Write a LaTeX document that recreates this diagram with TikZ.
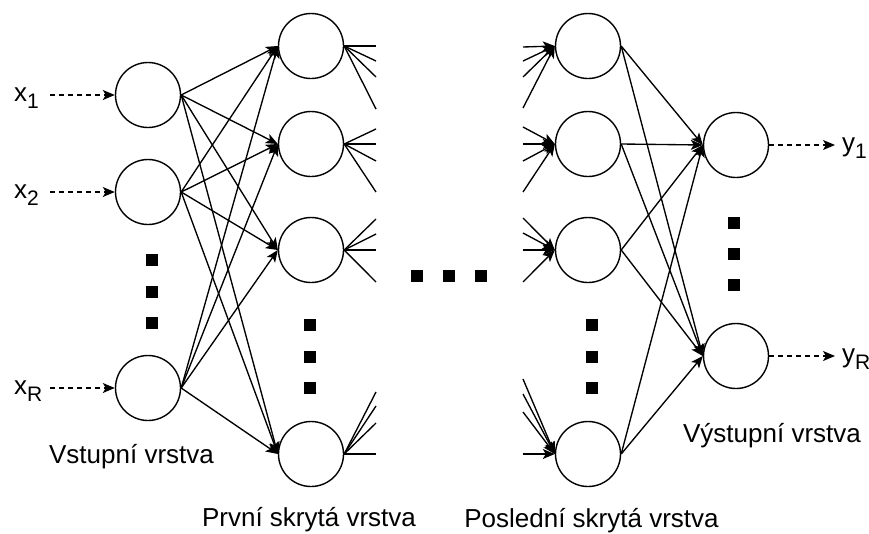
\documentclass[tikz,border=0pt]{standalone}
\usepackage{fontspec}
\setmainfont{Liberation Sans}
\usetikzlibrary{arrows.meta}
% lowered, smaller index after a variable name
\newcommand{\lowidx}[1]{\raisebox{-7pt}{\fontsize{21}{21}\selectfont #1}}

\begin{document}
\begin{tikzpicture}[x=1pt,y=-1pt,
  neuron/.style={circle,draw,line width=1.4pt,minimum size=65pt,inner sep=0pt},
  dotbox/.style={rectangle,fill=black,minimum size=11.5pt,inner sep=0pt},
  tip/.style={-{Stealth[length=12pt,width=10pt,inset=3pt]}},
  link/.style={line width=1.35pt,tip},
  stub/.style={line width=1.35pt},
  feed/.style={line width=1.35pt,dash pattern=on 5pt off 4pt,tip},
  lbl/.style={font=\fontsize{26}{30}\selectfont,inner sep=0pt}
]
\useasboundingbox (0,0) rectangle (869,533);

% input layer
\node[neuron] (i1) at (148,95) {};
\node[neuron] (i2) at (148,192) {};
\node[neuron] (iR) at (148,388) {};
\node[dotbox] (idot1) at (152,260) {};
\node[dotbox] (idot2) at (152,292) {};
\node[dotbox] (idot3) at (152,323) {};

% first hidden layer
\node[neuron] (h1) at (311,46) {};
\node[neuron] (h2) at (311,144) {};
\node[neuron] (h3) at (311,250) {};
\node[neuron] (h4) at (311,454) {};
\node[dotbox] (hdot1) at (310,325) {};
\node[dotbox] (hdot2) at (310,357) {};
\node[dotbox] (hdot3) at (310,388) {};

% last hidden layer
\node[neuron] (l1) at (588,46) {};
\node[neuron] (l2) at (588,144) {};
\node[neuron] (l3) at (588,250) {};
\node[neuron] (l4) at (588,454) {};
\node[dotbox] (ldot1) at (592,325) {};
\node[dotbox] (ldot2) at (592,357) {};
\node[dotbox] (ldot3) at (592,388) {};

% output layer
\node[neuron] (o1) at (736,145) {};
\node[neuron] (oR) at (736,356) {};
\node[dotbox] (odot1) at (734,223) {};
\node[dotbox] (odot2) at (734,254) {};
\node[dotbox] (odot3) at (734,285) {};

% omitted layers in between
\node[dotbox] (mdot1) at (417,276) {};
\node[dotbox] (mdot2) at (449,276) {};
\node[dotbox] (mdot3) at (481,276) {};

% inputs
\node[lbl,anchor=base west] (x1) at (14,101) {x\lowidx{1}};
\node[lbl,anchor=base west] (x2) at (14,198) {x\lowidx{2}};
\node[lbl,anchor=base west] (xR) at (14,394) {x\lowidx{R}};
\coordinate (x1e) at (50,95);
\coordinate (x2e) at (50,192);
\coordinate (xRe) at (50,388);
\draw[feed] (x1e) -- (i1.west);
\draw[feed] (x2e) -- (i2.west);
\draw[feed] (xRe) -- (iR.west);

% outputs
\coordinate (y1s) at (835,145);
\coordinate (yRs) at (835,356);
\draw[feed] (o1.east) -- (y1s);
\draw[feed] (oR.east) -- (yRs);
\node[lbl,anchor=base west] (y1) at (842,151) {y\lowidx{1}};
\node[lbl,anchor=base west] (yR) at (842,362) {y\lowidx{R}};

% input layer -> first hidden layer
\foreach \a in {i1,i2,iR}
  \foreach \b in {h1,h2,h3,h4}
    \draw[link] (\a.east) -- (\b.west);

% last hidden layer -> output layer
\foreach \a in {l1,l2,l3,l4}
  \foreach \b in {o1,oR}
    \draw[link] (\a.east) -- (\b.west);

% connections leaving the first hidden layer
\foreach \n/\lst in {h1/{46,61,77,109},h2/{129,144,161,192},h3/{219,234,250,282},h4/{392,406,423,454}}
  \foreach \yy [count=\k] in \lst {
    \coordinate (\n-out\k) at (376,\yy);
    \draw[stub] (\n.east) -- (\n-out\k);
  }

% connections arriving at the last hidden layer
\foreach \n/\lst in {l1/{47,61,77,108},l2/{127,144,161,192},l3/{218,233,250,282},l4/{379,394,412,454}}
  \foreach \yy [count=\k] in \lst {
    \coordinate (\n-in\k) at (523,\yy);
    \draw[link] (\n-in\k) -- (\n.west);
  }

% layer names
\node[lbl,anchor=base] (tin) at (131.5,463) {Vstupní vrstva};
\node[lbl,anchor=base] (th1) at (309,526) {První skrytá vrstva};
\node[lbl,anchor=base] (thl) at (591.5,527) {Poslední skrytá vrstva};
\node[lbl,anchor=base] (tout) at (772,442) {Výstupní vrstva};
\end{tikzpicture}
\end{document}
